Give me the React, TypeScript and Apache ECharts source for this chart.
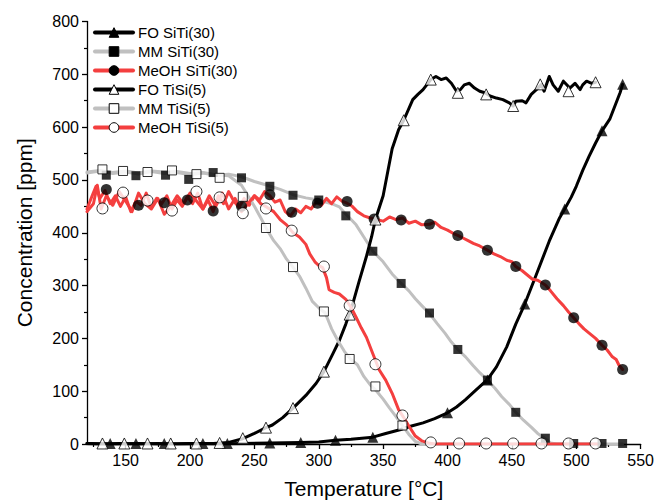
import React, { useEffect, useRef } from 'react';
import * as echarts from 'echarts';

// ---------- tick values ----------
const xMajorTicks = [150, 200, 250, 300, 350, 400, 450, 500, 550];
const xMinorTicks = [125, 175, 225, 275, 325, 375, 425, 475, 525];

// ---------- dense line data [temperature, ppm] ----------
const foSiTiLine = [
  [120, 1], [140, 0], [160, 1], [180, 0], [200, 1], [220, 0], [240, 1], [262, 2], [286, 3], [300, 4],
  [313, 7], [325, 9], [342, 13], [352, 20], [363, 27], [372, 34], [381, 40], [390, 48], [400, 59],
  [407, 70], [414, 84], [422, 102], [431, 122], [438, 146], [446, 184], [453, 227], [460, 265],
  [469, 321], [479, 384], [487, 428], [491, 445], [496, 467], [500, 488], [505, 518], [510, 545],
  [515, 570], [520, 593], [526, 615], [530, 640], [534, 665], [536, 681],
];
const mmSiTiLine = [
  [120, 513], [130, 517], [140, 512], [150, 515], [160, 511], [170, 516], [180, 512], [190, 514],
  [200, 510], [210, 513], [220, 509], [230, 511], [240, 506], [250, 497], [260, 490], [270, 482],
  [280, 472], [290, 466], [300, 462], [310, 455], [316, 449], [320, 438], [324, 428], [329, 415],
  [335, 392], [342, 365], [350, 345], [357, 322], [364, 304], [370, 290], [375, 275], [380, 262],
  [386, 247], [392, 228], [398, 210], [403, 193], [408, 179], [414, 165], [420, 148], [425, 135],
  [431, 121], [437, 105], [442, 90], [448, 75], [453, 60], [459, 45], [465, 32], [470, 20],
  [476, 10], [480, 2], [485, 0], [500, 0], [520, 0], [536, 0],
];
const meohSiTiLine = [
  [120, 445], [124, 470], [127, 488], [130, 465], [134, 480], [138, 455], [142, 470], [146, 450],
  [150, 468], [154, 440], [158, 460], [162, 452], [166, 475], [170, 448], [174, 465], [178, 455],
  [182, 470], [186, 445], [190, 462], [194, 450], [198, 468], [202, 455], [206, 475], [210, 445],
  [214, 462], [218, 440], [222, 470], [226, 455], [230, 478], [234, 460], [238, 448], [242, 465],
  [246, 452], [250, 470], [254, 462], [258, 478], [262, 470], [266, 458], [270, 462], [274, 440],
  [278, 432], [282, 445], [286, 438], [290, 450], [294, 445], [298, 458], [302, 452], [306, 465],
  [310, 455], [314, 468], [318, 460], [322, 456], [326, 450], [330, 440], [335, 432], [340, 428],
  [345, 425], [350, 422], [355, 430], [360, 425], [365, 428], [370, 418], [375, 422], [380, 415],
  [386, 416], [390, 420], [395, 410], [400, 405], [405, 398], [408, 395], [412, 390], [416, 385],
  [420, 380], [425, 375], [431, 367], [436, 360], [441, 355], [446, 348], [450, 345], [453, 336],
  [458, 328], [462, 320], [466, 312], [470, 310], [476, 301], [480, 290], [485, 275], [490, 262],
  [494, 250], [498, 239], [502, 228], [506, 218], [510, 210], [515, 200], [520, 187], [524, 178],
  [528, 165], [531, 160], [533, 150], [536, 141],
];
const foTiSiLine = [
  [120, 1], [130, 0], [145, 1], [160, 0], [175, 1], [190, 0], [205, 1], [218, 1], [230, 3], [241, 10],
  [250, 20], [259, 31], [264, 36], [272, 50], [280, 68], [290, 92], [298, 115], [304, 137],
  [311, 171], [316, 196], [321, 227], [326, 262], [331, 305], [337, 355], [341, 392], [344, 425],
  [350, 470], [357, 559], [362, 595], [366, 613], [373, 652], [377, 662], [381, 671], [387, 690],
  [391, 696], [395, 690], [399, 693], [403, 683], [407, 668], [410, 671], [413, 680], [417, 683],
  [421, 674], [425, 668], [429, 665], [433, 659], [438, 655], [443, 652], [448, 646], [451, 640],
  [453, 649], [458, 650], [461, 646], [465, 662], [469, 671], [473, 681], [475, 668], [479, 696],
  [482, 680], [486, 668], [490, 687], [495, 674], [499, 683], [503, 671], [505, 680], [508, 687],
  [512, 683], [515, 685],
];
const mmTiSiLine = [
  [120, 515], [130, 518], [140, 514], [150, 517], [160, 513], [170, 517], [180, 515], [190, 516],
  [200, 512], [210, 514], [220, 510], [230, 508], [240, 490], [245, 470], [250, 450], [255, 428],
  [260, 405], [265, 385], [270, 370], [275, 350], [280, 335], [285, 318], [290, 295], [295, 270],
  [300, 258], [305, 248], [310, 218], [315, 195], [320, 175], [325, 160], [330, 150], [335, 128],
  [340, 112], [345, 100], [350, 85], [355, 68], [360, 52], [365, 35], [370, 18], [375, 5], [380, 0],
  [420, 0], [460, 0], [500, 0], [517, 0],
];
const meohTiSiLine = [
  [120, 440], [125, 455], [128, 490], [131, 445], [135, 470], [140, 452], [145, 478], [150, 460],
  [155, 440], [160, 475], [165, 455], [170, 445], [175, 465], [180, 435], [185, 450], [190, 470],
  [195, 455], [200, 475], [205, 460], [210, 445], [215, 470], [220, 450], [225, 475], [230, 445],
  [235, 465], [240, 440], [245, 455], [250, 470], [255, 455], [260, 448], [265, 440], [270, 425],
  [275, 415], [280, 400], [285, 392], [290, 378], [293, 360], [297, 345], [300, 338], [303, 334],
  [306, 315], [308, 292], [312, 287], [316, 284], [321, 274], [325, 259], [329, 240], [333, 220],
  [337, 202], [342, 171], [347, 140], [352, 121], [357, 96], [362, 65], [366, 50], [370, 34],
  [375, 15], [380, 6], [385, 2], [390, 0], [430, 0], [470, 0], [517, 0],
];

// ---------- marker positions [temperature, ppm] ----------
const foSiTiMarkers = [
  [138, 1], [158, 1], [180, 1], [210, 1], [229, 1], [262, 2], [286, 3], [313, 7], [342, 13],
  [400, 59], [431, 121], [460, 265], [491, 445], [520, 593], [536, 681],
];
const mmSiTiMarkers = [
  [135, 509], [158, 508], [181, 509], [199, 501], [218, 514], [240, 504], [262, 488], [280, 471],
  [300, 462], [321, 432], [342, 365], [364, 304], [386, 248], [408, 179], [431, 121], [453, 60],
  [476, 11], [498, 1], [520, 1], [536, 1],
];
const meohSiTiMarkers = [
  [135, 482], [160, 452], [180, 457], [198, 462], [218, 441], [240, 450], [262, 472], [279, 439],
  [299, 456], [322, 459], [343, 426], [364, 424], [386, 416], [408, 395], [431, 367], [453, 336],
  [476, 301], [498, 239], [520, 187], [536, 141],
];
const foTiSiMarkers = [
  [132, 1], [149, 1], [167, 1], [185, 1], [205, 1], [223, 2], [241, 11], [259, 31], [280, 68],
  [304, 137], [324, 245], [344, 425], [366, 613], [387, 690], [408, 665], [430, 662], [451, 640],
  [472, 681], [494, 668], [515, 685],
];
const mmTiSiMarkers = [
  [132, 520], [148, 517], [167, 515], [186, 518], [205, 511], [223, 504], [241, 468], [259, 409],
  [280, 335], [304, 251], [324, 161], [344, 109], [365, 35],
];
const meohTiSiMarkers = [
  [132, 446], [148, 476], [167, 461], [186, 442], [205, 478], [223, 467], [241, 437], [259, 446],
  [279, 404], [304, 336], [324, 262], [344, 151], [365, 54], [387, 3], [409, 1], [430, 1],
  [451, 1], [473, 1], [494, 1], [515, 1],
];

const seriesNames = [
  'FO SiTi(30)', 'MM SiTi(30)', 'MeOH SiTi(30)', 'FO TiSi(5)', 'MM TiSi(5)', 'MeOH TiSi(5)',
];

const BLACK = '#000000';
const GRAY = '#c0c0c0';
const RED = '#f43f3f';
const FONT = "'Liberation Sans', Arial, sans-serif";

const defs = [
  { name: seriesNames[0], line: foSiTiLine, markers: foSiTiMarkers, color: BLACK, symbol: 'triangle', size: 11, open: false },
  { name: seriesNames[1], line: mmSiTiLine, markers: mmSiTiMarkers, color: GRAY, symbol: 'rect', size: 9, open: false },
  { name: seriesNames[2], line: meohSiTiLine, markers: meohSiTiMarkers, color: RED, symbol: 'circle', size: 11, open: false },
  { name: seriesNames[3], line: foTiSiLine, markers: foTiSiMarkers, color: BLACK, symbol: 'triangle', size: 11, open: true },
  { name: seriesNames[4], line: mmTiSiLine, markers: mmTiSiMarkers, color: GRAY, symbol: 'rect', size: 9, open: true },
  { name: seriesNames[5], line: meohTiSiLine, markers: meohTiSiMarkers, color: RED, symbol: 'circle', size: 11, open: true },
];

export default function App() {
  const ref = useRef<HTMLDivElement>(null);

  useEffect(() => {
    if (!ref.current) return;
    const chart = echarts.init(ref.current, undefined, { renderer: 'svg' });

    const itemStyleFor = (open: boolean) =>
      open
        ? { color: '#ffffff', borderColor: '#000000', borderWidth: 1 }
        : { color: '#000000', borderColor: '#000000', borderWidth: 0 };

    const lineSeries = defs.map((d) => ({
      type: 'line',
      name: d.name,
      data: d.line,
      xAxisIndex: 0,
      yAxisIndex: 0,
      showSymbol: false,
      symbol: d.symbol,
      symbolSize: d.size,
      lineStyle: { color: d.color, width: 3, join: 'round', cap: 'round' },
      itemStyle: itemStyleFor(d.open),
      z: 2,
      silent: true,
    }));

    const markerSeries = defs.map((d) => ({
      type: 'scatter',
      name: d.name + ' markers',
      data: d.markers,
      xAxisIndex: 0,
      yAxisIndex: 0,
      symbol: d.symbol,
      symbolSize: d.size,
      itemStyle: itemStyleFor(d.open),
      z: 3,
      silent: true,
    }));

    const axisText = { color: '#000', fontSize: 16, fontFamily: FONT };

    chart.setOption({
      animation: false,
      backgroundColor: '#ffffff',
      grid: { left: 87, right: 16, top: 21.5, bottom: 56, containLabel: false },
      legend: {
        data: seriesNames,
        orient: 'vertical',
        left: 93,
        top: 25,
        padding: 0,
        itemWidth: 38,
        itemHeight: 12,
        itemGap: 4,
        textStyle: { color: '#000', fontSize: 15, fontFamily: FONT },
        lineStyle: { width: 4 },
        itemStyle: { borderWidth: 1 },
        selectedMode: false,
      },
      xAxis: [
        {
          type: 'value',
          min: 120,
          max: 550,
          position: 'bottom',
          name: 'Temperature [°C]',
          nameLocation: 'middle',
          nameGap: 34,
          nameTextStyle: { color: '#000', fontSize: 21, fontFamily: FONT },
          axisLine: { show: true, lineStyle: { color: '#000', width: 1.3 } },
          axisTick: { show: true, inside: false, length: 5, customValues: xMajorTicks, lineStyle: { color: '#000', width: 1.3 } },
          axisLabel: { ...axisText, margin: 8, customValues: xMajorTicks },
          splitLine: { show: false },
        },
        {
          type: 'value',
          min: 120,
          max: 550,
          position: 'bottom',
          axisLine: { show: false },
          axisTick: { show: true, inside: false, length: 3, customValues: xMinorTicks, lineStyle: { color: '#000', width: 1.2 } },
          axisLabel: { show: false },
          splitLine: { show: false },
        },
      ],
      yAxis: {
        type: 'value',
        min: 0,
        max: 800,
        interval: 100,
        name: 'Concentration [ppm]',
        nameLocation: 'middle',
        nameGap: 52,
        nameTextStyle: { color: '#000', fontSize: 21, fontFamily: FONT },
        axisLine: { show: true, lineStyle: { color: '#000', width: 1.3 } },
        axisTick: { show: true, inside: false, length: 5, lineStyle: { color: '#000', width: 1.3 } },
        minorTick: { show: true, splitNumber: 2, length: 3, lineStyle: { color: '#000', width: 1.2 } },
        axisLabel: { ...axisText, margin: 8 },
        splitLine: { show: false },
        minorSplitLine: { show: false },
      },
      series: [...lineSeries, ...markerSeries],
    });

    return () => {
      chart.dispose();
    };
  }, []);

  return (
    <div
      ref={ref}
      style={{ position: 'fixed', left: 0, top: 0, width: 657, height: 504, background: '#fff' }}
    />
  );
}
